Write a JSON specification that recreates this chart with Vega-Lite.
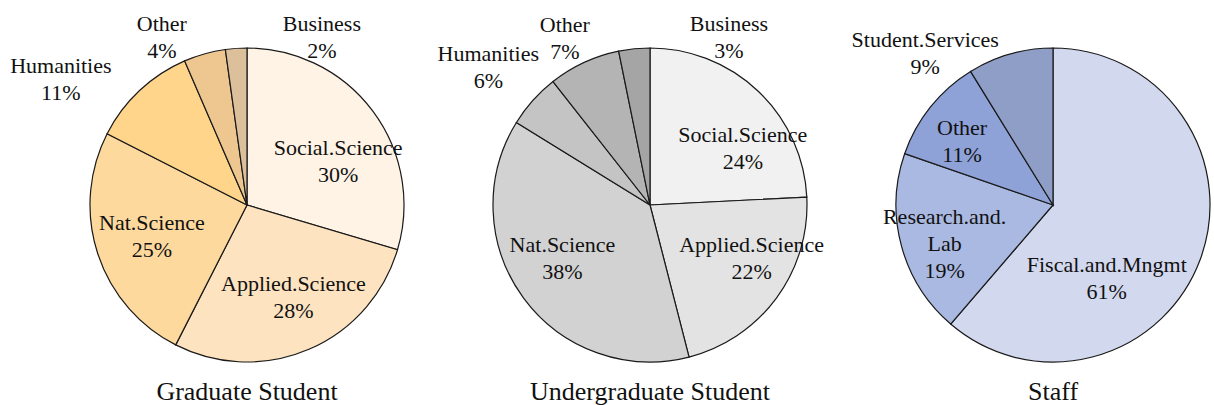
{
  "$schema": "https://vega.github.io/schema/vega-lite/v6.json",
  "autosize": {"type": "pad"},
  "padding": {"left": 10, "top": 8, "right": 0, "bottom": 0},
  "bounds": "flush",
  "spacing": 83,
  "background": "white",
  "resolve": {"scale": {"color": "independent", "theta": "independent"}},
  "config": {"view": {"stroke": null}, "text": {"font": "Liberation Serif"}},
  "datasets": {
    "grad": [
      {"category": "Social.Science", "share": 29.6, "k": 1},
      {"category": "Applied.Science", "share": 27.9, "k": 2},
      {"category": "Nat.Science", "share": 25.0, "k": 3},
      {"category": "Humanities", "share": 11.0, "k": 4},
      {"category": "Other", "share": 4.3, "k": 5},
      {"category": "Business", "share": 2.2, "k": 6}
    ],
    "ug": [
      {"category": "Social.Science", "share": 24.2, "k": 1},
      {"category": "Applied.Science", "share": 21.8, "k": 2},
      {"category": "Nat.Science", "share": 37.8, "k": 3},
      {"category": "Humanities", "share": 5.6, "k": 4},
      {"category": "Other", "share": 7.4, "k": 5},
      {"category": "Business", "share": 3.2, "k": 6}
    ],
    "staff": [
      {"category": "Fiscal.and.Mngmt", "share": 61.3, "k": 1},
      {"category": "Research.and.Lab", "share": 19.0, "k": 2},
      {"category": "Other", "share": 10.9, "k": 3},
      {"category": "Student.Services", "share": 8.8, "k": 4}
    ]
  },
  "hconcat": [
    {
      "width": 320, "height": 384,
      "data": {"name": "grad"},
      "title": {"text": "Graduate Student", "orient": "bottom", "offset": -18, "fontSize": 26, "font": "Liberation Serif", "fontWeight": "normal", "color": "#111"},
      "transform": [{"calculate": "replace(datum.category,'and.Lab','and.\\nLab') + '\\n' + format(datum.share,'.0f') + '%'", "as": "label"}],
      "encoding": {
        "theta": {"field": "share", "type": "quantitative", "stack": true},
        "order": {"field": "k", "type": "quantitative"}
      },
      "layer": [
        {"mark": {"type": "arc", "outerRadius": 157, "stroke": "#1a1a1a", "strokeWidth": 1.2},
         "encoding": {"color": {"field": "category", "type": "nominal", "legend": null,
           "scale": {"domain": ["Social.Science", "Applied.Science", "Nat.Science", "Humanities", "Other", "Business"],
                     "range": ["#FFF3E6", "#FDE3C0", "#FDD99E", "#FED58A", "#EDC690", "#DCC09B"]}}}},
        {"mark": {"type": "text", "radius": 100, "dx": 11, "dy": 3, "fontSize": 22, "lineHeight": 27, "lineBreak": "\n", "align": "center", "baseline": "middle", "font": "Liberation Serif"},
         "encoding": {"detail": {"field": "category"}, "color": {"value": "#111"}, "text": {"condition": {"test": "datum.category==='Social.Science'", "field": "label"}, "value": ""}}},
        {"mark": {"type": "text", "radius": 105, "dx": 5, "dy": -17, "fontSize": 22, "lineHeight": 27, "lineBreak": "\n", "align": "center", "baseline": "middle", "font": "Liberation Serif"},
         "encoding": {"detail": {"field": "category"}, "color": {"value": "#111"}, "text": {"condition": {"test": "datum.category==='Applied.Science'", "field": "label"}, "value": ""}}},
        {"mark": {"type": "text", "radius": 100, "dx": 0, "dy": -13, "fontSize": 22, "lineHeight": 27, "lineBreak": "\n", "align": "center", "baseline": "middle", "font": "Liberation Serif"},
         "encoding": {"detail": {"field": "category"}, "color": {"value": "#111"}, "text": {"condition": {"test": "datum.category==='Nat.Science'", "field": "label"}, "value": ""}}},
        {"mark": {"type": "text", "radius": 120, "dx": -104, "dy": -52, "fontSize": 22, "lineHeight": 27, "lineBreak": "\n", "align": "center", "baseline": "middle", "font": "Liberation Serif"},
         "encoding": {"detail": {"field": "category"}, "color": {"value": "#111"}, "text": {"condition": {"test": "datum.category==='Humanities'", "field": "label"}, "value": ""}}},
        {"mark": {"type": "text", "radius": 60, "dx": -69, "dy": -123, "fontSize": 22, "lineHeight": 27, "lineBreak": "\n", "align": "center", "baseline": "middle", "font": "Liberation Serif"},
         "encoding": {"detail": {"field": "category"}, "color": {"value": "#111"}, "text": {"condition": {"test": "datum.category==='Other'", "field": "label"}, "value": ""}}},
        {"mark": {"type": "text", "radius": 60, "dx": 79, "dy": -121, "fontSize": 22, "lineHeight": 27, "lineBreak": "\n", "align": "center", "baseline": "middle", "font": "Liberation Serif"},
         "encoding": {"detail": {"field": "category"}, "color": {"value": "#111"}, "text": {"condition": {"test": "datum.category==='Business'", "field": "label"}, "value": ""}}}
      ]
    },
    {
      "width": 320, "height": 384,
      "data": {"name": "ug"},
      "title": {"text": "Undergraduate Student", "orient": "bottom", "offset": -18, "fontSize": 26, "font": "Liberation Serif", "fontWeight": "normal", "color": "#111"},
      "transform": [{"calculate": "replace(datum.category,'and.Lab','and.\\nLab') + '\\n' + format(datum.share,'.0f') + '%'", "as": "label"}],
      "encoding": {
        "theta": {"field": "share", "type": "quantitative", "stack": true},
        "order": {"field": "k", "type": "quantitative"}
      },
      "layer": [
        {"mark": {"type": "arc", "outerRadius": 157, "stroke": "#1a1a1a", "strokeWidth": 1.2},
         "encoding": {"color": {"field": "category", "type": "nominal", "legend": null,
           "scale": {"domain": ["Social.Science", "Applied.Science", "Nat.Science", "Humanities", "Other", "Business"],
                     "range": ["#F1F1F1", "#E3E3E3", "#D2D2D2", "#C4C4C4", "#B4B4B4", "#A5A5A5"]}}}},
        {"mark": {"type": "text", "radius": 110, "dx": 17, "dy": 10, "fontSize": 22, "lineHeight": 27, "lineBreak": "\n", "align": "center", "baseline": "middle", "font": "Liberation Serif"},
         "encoding": {"detail": {"field": "category"}, "color": {"value": "#111"}, "text": {"condition": {"test": "datum.category==='Social.Science'", "field": "label"}, "value": ""}}},
        {"mark": {"type": "text", "radius": 110, "dx": 13, "dy": -25, "fontSize": 22, "lineHeight": 27, "lineBreak": "\n", "align": "center", "baseline": "middle", "font": "Liberation Serif"},
         "encoding": {"detail": {"field": "category"}, "color": {"value": "#111"}, "text": {"condition": {"test": "datum.category==='Applied.Science'", "field": "label"}, "value": ""}}},
        {"mark": {"type": "text", "radius": 105, "dx": -3, "dy": -22, "fontSize": 22, "lineHeight": 27, "lineBreak": "\n", "align": "center", "baseline": "middle", "font": "Liberation Serif"},
         "encoding": {"detail": {"field": "category"}, "color": {"value": "#111"}, "text": {"condition": {"test": "datum.category==='Nat.Science'", "field": "label"}, "value": ""}}},
        {"mark": {"type": "text", "radius": 80, "dx": -102, "dy": -98, "fontSize": 22, "lineHeight": 27, "lineBreak": "\n", "align": "center", "baseline": "middle", "font": "Liberation Serif"},
         "encoding": {"detail": {"field": "category"}, "color": {"value": "#111"}, "text": {"condition": {"test": "datum.category==='Humanities'", "field": "label"}, "value": ""}}},
        {"mark": {"type": "text", "radius": 60, "dx": -60, "dy": -126, "fontSize": 22, "lineHeight": 27, "lineBreak": "\n", "align": "center", "baseline": "middle", "font": "Liberation Serif"},
         "encoding": {"detail": {"field": "category"}, "color": {"value": "#111"}, "text": {"condition": {"test": "datum.category==='Other'", "field": "label"}, "value": ""}}},
        {"mark": {"type": "text", "radius": 60, "dx": 85, "dy": -121, "fontSize": 22, "lineHeight": 27, "lineBreak": "\n", "align": "center", "baseline": "middle", "font": "Liberation Serif"},
         "encoding": {"detail": {"field": "category"}, "color": {"value": "#111"}, "text": {"condition": {"test": "datum.category==='Business'", "field": "label"}, "value": ""}}}
      ]
    },
    {
      "width": 320, "height": 384,
      "data": {"name": "staff"},
      "title": {"text": "Staff", "orient": "bottom", "offset": -18, "fontSize": 26, "font": "Liberation Serif", "fontWeight": "normal", "color": "#111"},
      "transform": [{"calculate": "replace(datum.category,'and.Lab','and.\\nLab') + '\\n' + format(datum.share,'.0f') + '%'", "as": "label"}],
      "encoding": {
        "theta": {"field": "share", "type": "quantitative", "stack": true},
        "order": {"field": "k", "type": "quantitative"}
      },
      "layer": [
        {"mark": {"type": "arc", "outerRadius": 157, "stroke": "#1a1a1a", "strokeWidth": 1.2},
         "encoding": {"color": {"field": "category", "type": "nominal", "legend": null,
           "scale": {"domain": ["Fiscal.and.Mngmt", "Research.and.Lab", "Other", "Student.Services"],
                     "range": ["#D2D8EE", "#AAB9E2", "#8EA2D8", "#8F9EC6"]}}}},
        {"mark": {"type": "text", "radius": 100, "dx": -40, "dy": 25, "fontSize": 22, "lineHeight": 27, "lineBreak": "\n", "align": "center", "baseline": "middle", "font": "Liberation Serif"},
         "encoding": {"detail": {"field": "category"}, "color": {"value": "#111"}, "text": {"condition": {"test": "datum.category==='Fiscal.and.Mngmt'", "field": "label"}, "value": ""}}},
        {"mark": {"type": "text", "radius": 105, "dx": -7, "dy": -15, "fontSize": 22, "lineHeight": 27, "lineBreak": "\n", "align": "center", "baseline": "middle", "font": "Liberation Serif"},
         "encoding": {"detail": {"field": "category"}, "color": {"value": "#111"}, "text": {"condition": {"test": "datum.category==='Research.and.Lab'", "field": "label"}, "value": ""}}},
        {"mark": {"type": "text", "radius": 105, "dx": -9, "dy": -11, "fontSize": 22, "lineHeight": 27, "lineBreak": "\n", "align": "center", "baseline": "middle", "font": "Liberation Serif"},
         "encoding": {"detail": {"field": "category"}, "color": {"value": "#111"}, "text": {"condition": {"test": "datum.category==='Other'", "field": "label"}, "value": ""}}},
        {"mark": {"type": "text", "radius": 120, "dx": -95, "dy": -50, "fontSize": 22, "lineHeight": 27, "lineBreak": "\n", "align": "center", "baseline": "middle", "font": "Liberation Serif"},
         "encoding": {"detail": {"field": "category"}, "color": {"value": "#111"}, "text": {"condition": {"test": "datum.category==='Student.Services'", "field": "label"}, "value": ""}}}
      ]
    }
  ]
}
